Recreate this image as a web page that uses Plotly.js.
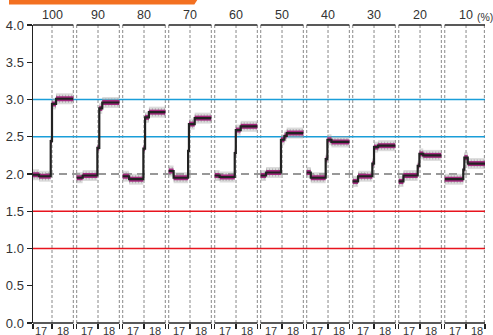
<!DOCTYPE html>
<html><head><meta charset="utf-8">
<script src="https://cdn.plot.ly/plotly-3.0.1.min.js"></script>
<style>html,body{margin:0;padding:0;background:#fff}#chart{width:493px;height:335px}</style>
</head><body><div id="chart"></div>
<script>
// ---- data ----
const panelLabels = ['100','90','80','70','60','50','40','30','20','10'];
const yearLabels = ['17','18'];
const yTicks = [0,0.5,1,1.5,2,2.5,3,3.5,4];
const redLines = [1.0,1.5];
const blueLines = [2.5,3.0];
const baseLine = [2.0];
// step change times inside each panel (0 = start of 17, 1 = start of 18, 2 = end of 18)
const stepTimes = [
 [0,0.39,0.94,1.0,1.19,2],
 [0,0.28,0.97,1.06,1.2,2],
 [0,0.30,0.97,1.05,1.23,2],
 [0,0.23,0.91,0.95,1.22,2],
 [0,0.23,0.94,0.99,1.22,2],
 [0,0.25,0.95,1.11,1.22,2],
 [0,0.19,0.89,0.97,1.16,2],
 [0,0.25,0.92,1.0,1.19,2],
 [0,0.22,0.89,0.97,1.15,2],
 [0,0.87,0.92,1.08,2]
];
const stepLevels = [
 [1.99,1.97,2.44,2.94,3.01],
 [1.95,1.98,2.35,2.88,2.96],
 [1.97,1.93,2.34,2.76,2.83],
 [2.04,1.95,2.31,2.67,2.75],
 [1.98,1.96,2.28,2.59,2.64],
 [1.98,2.02,2.46,2.51,2.55],
 [2.02,1.95,2.20,2.46,2.43],
 [1.90,1.97,2.14,2.36,2.38],
 [1.90,1.98,2.11,2.27,2.25],
 [1.93,2.06,2.22,2.14]
];

// ---- layout geometry ----
const S = 2.16;          // panel spacing in x units
const XMIN = 0.108, XMAX = 21.33;
const off = i => i * S;

const traces = [];
const bandX = [], bandY = [];
stepTimes.forEach((ts, i) => {
  const lv = stepLevels[i];
  for (let k = 0; k < lv.length; k++) {
    const x0 = off(i) + ts[k], x1 = off(i) + ts[k + 1];
    bandX.push(x0, x1, null); bandY.push(lv[k], lv[k], null);
  }
});
traces.push({x: bandX, y: bandY, mode: 'lines', line: {color: 'rgba(175,175,175,0.45)', width: 11}, hoverinfo: 'skip', showlegend: false});
traces.push({x: bandX, y: bandY, mode: 'lines', line: {color: 'rgba(140,140,140,0.55)', width: 8, dash: '1px,2px'}, hoverinfo: 'skip', showlegend: false});
traces.push({x: bandX, y: bandY, mode: 'lines', line: {color: '#a3287e', width: 5}, hoverinfo: 'skip', showlegend: false});
stepTimes.forEach((ts, i) => {
  const lv = stepLevels[i];
  traces.push({
    x: ts.map(t => off(i) + t),
    y: lv.concat([lv[lv.length - 1]]),
    mode: 'lines', line: {shape: 'hv', color: '#222', width: 2.2},
    hoverinfo: 'skip', showlegend: false
  });
});

const shapes = [];
const dashV = {color: '#888', width: 1, dash: '3px,2px'};
panelLabels.forEach((_, i) => {
  const L = i === 0 ? XMIN : off(i);
  const R = Math.min(off(i) + 2, XMAX - 0.03);
  if (i > 0) shapes.push({type: 'line', xref: 'x', yref: 'paper', x0: L, x1: L, y0: 0, y1: 1, line: dashV, layer: 'below'});
  shapes.push({type: 'line', xref: 'x', yref: 'paper', x0: off(i) + 1, x1: off(i) + 1, y0: 0, y1: 1, line: dashV, layer: 'below'});
  shapes.push({type: 'line', xref: 'x', yref: 'paper', x0: R, x1: R, y0: 0, y1: 1, line: dashV, layer: 'below'});
  shapes.push({type: 'line', xref: 'x', yref: 'paper', x0: L, x1: Math.min(off(i) + 2, XMAX), y0: 1, y1: 1, line: {color: '#222', width: 1.5}});
  shapes.push({type: 'line', xref: 'x', yref: 'paper', x0: L, x1: Math.min(off(i) + 2, XMAX), y0: 0, y1: 0, line: {color: '#222', width: 1.5}});
});
redLines.forEach(v => shapes.push({type: 'line', xref: 'paper', yref: 'y', x0: 0, x1: 1, y0: v, y1: v, line: {color: '#e8141e', width: 1.5}, layer: 'below'}));
blueLines.forEach(v => shapes.push({type: 'line', xref: 'paper', yref: 'y', x0: 0, x1: 1, y0: v, y1: v, line: {color: '#1a9ed9', width: 1.5}, layer: 'below'}));
baseLine.forEach(v => shapes.push({type: 'line', xref: 'paper', yref: 'y', x0: 0, x1: 1, y0: v, y1: v, line: {color: '#777', width: 1.5, dash: '8px,5px'}, layer: 'below'}));
// orange header bar
shapes.push({type: 'path', xref: 'paper', yref: 'paper', path: 'M -0.0531,1.09 L 0.366,1.09 L 0.357,1.0688 L -0.0531,1.0688 Z', fillcolor: '#f37021', line: {width: 0}});

const ann = [];
const fnt = {family: 'Liberation Sans, Arial, sans-serif', size: 12.5, color: '#333'};
panelLabels.forEach((lab, i) => {
  ann.push({x: off(i) + 1, y: 1, xref: 'x', yref: 'paper', text: lab, showarrow: false, yanchor: 'bottom', xanchor: 'center', yshift: 1, font: fnt});
  yearLabels.forEach((yl, j) => {
    ann.push({x: off(i) + 0.5 + j, y: 0, xref: 'x', yref: 'paper', text: yl, showarrow: false, yanchor: 'top', xanchor: 'center', yshift: 0, font: {family: fnt.family, size: 11, color: '#333'}});
  });
});
ann.push({x: 1.021, y: 1, xref: 'paper', yref: 'paper', text: '(%)', showarrow: false, yanchor: 'bottom', xanchor: 'right', yshift: 1, borderpad: 0, font: {family: fnt.family, size: 10.5, color: '#333'}});

const tickX = [];
panelLabels.forEach((_, i) => {
  tickX.push(i === 0 ? XMIN : off(i), off(i) + 1, Math.min(off(i) + 2, XMAX));
});

const layout = {
  width: 493, height: 335,
  margin: {l: 33, r: 8, t: 25, b: 12},
  paper_bgcolor: '#fff', plot_bgcolor: 'rgba(0,0,0,0)',
  showlegend: false,
  xaxis: {range: [XMIN, XMAX], showgrid: false, zeroline: false, showline: false,
          tickmode: 'array', tickvals: tickX, ticks: 'outside', ticklen: 5, tickwidth: 1.2, tickcolor: '#222',
          showticklabels: false, fixedrange: true},
  yaxis: {range: [0, 4], showgrid: false, zeroline: false, showline: true, linecolor: '#222', linewidth: 1.5,
          tickmode: 'array', tickvals: yTicks, ticktext: yTicks.map(v => v.toFixed(1)),
          ticks: 'outside', ticklen: 5, tickwidth: 1.2, tickcolor: '#222',
          tickfont: {family: fnt.family, size: 13, color: '#333'}, fixedrange: true},
  shapes: shapes,
  annotations: ann
};
Plotly.newPlot('chart', traces, layout, {staticPlot: true, displayModeBar: false});
</script></body></html>
